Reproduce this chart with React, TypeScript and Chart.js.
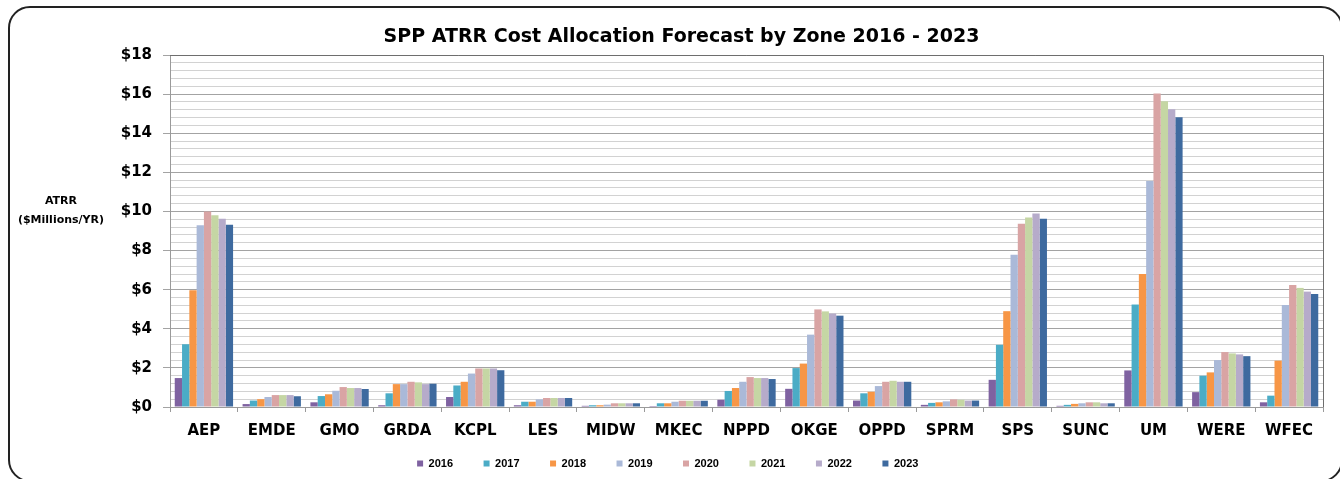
import React, { useEffect, useRef } from "react";
import { Chart, registerables } from "chart.js";

Chart.register(...registerables);

const zones = ["AEP", "EMDE", "GMO", "GRDA", "KCPL", "LES", "MIDW", "MKEC", "NPPD", "OKGE", "OPPD", "SPRM", "SPS", "SUNC", "UM", "WERE", "WFEC"];
const years = ["2016", "2017", "2018", "2019", "2020", "2021", "2022", "2023"];

const y2016 = [1.48, 0.15, 0.24, 0.09, 0.51, 0.09, 0.06, 0.05, 0.37, 0.93, 0.33, 0.11, 1.39, 0.06, 1.87, 0.76, 0.24];
const y2017 = [3.21, 0.33, 0.56, 0.70, 1.10, 0.27, 0.09, 0.19, 0.82, 1.99, 0.70, 0.21, 3.18, 0.11, 5.24, 1.60, 0.58];
const y2018 = [5.97, 0.40, 0.65, 1.17, 1.29, 0.27, 0.09, 0.19, 0.97, 2.22, 0.78, 0.24, 4.90, 0.16, 6.80, 1.77, 2.37];
const y2019 = [9.29, 0.51, 0.83, 1.17, 1.71, 0.39, 0.12, 0.27, 1.29, 3.70, 1.07, 0.29, 7.79, 0.19, 11.56, 2.40, 5.21];
const y2020 = [10.0, 0.61, 1.02, 1.29, 1.97, 0.46, 0.19, 0.32, 1.53, 4.99, 1.29, 0.39, 9.37, 0.24, 16.03, 2.81, 6.24];
const y2021 = [9.80, 0.61, 0.97, 1.26, 1.97, 0.46, 0.19, 0.32, 1.48, 4.89, 1.34, 0.37, 9.69, 0.24, 15.63, 2.74, 6.09];
const y2022 = [9.63, 0.61, 0.97, 1.17, 1.97, 0.46, 0.19, 0.32, 1.48, 4.78, 1.29, 0.33, 9.90, 0.19, 15.22, 2.69, 5.90];
const y2023 = [9.32, 0.55, 0.92, 1.19, 1.88, 0.46, 0.19, 0.32, 1.43, 4.67, 1.29, 0.33, 9.63, 0.19, 14.82, 2.60, 5.78];

const seriesValues = [y2016, y2017, y2018, y2019, y2020, y2021, y2022, y2023];
const seriesColors = ["#7F62A1", "#4BACC6", "#F79646", "#AAB9D8", "#D9A4A4", "#C5D6A4", "#B6ABCA", "#3E6A9F"];

const chartTitle = "SPP ATRR Cost Allocation Forecast by Zone 2016 - 2023";
const yAxisTitle = ["ATRR", "($Millions/YR)"];
const yMax = 18;
const yMinorStep = 0.4;

const BOLD = "DejaVu Sans";

const framePlugin = {
  id: "frame",
  afterDatasetsDraw(chart: any) {
    const { ctx, chartArea } = chart;
    ctx.save();
    ctx.strokeStyle = "#6e6e6e";
    ctx.lineWidth = 1;
    ctx.beginPath();
    ctx.moveTo(chartArea.left, chartArea.top + 0.5);
    ctx.lineTo(chartArea.right + 0.5, chartArea.top + 0.5);
    ctx.lineTo(chartArea.right + 0.5, chartArea.bottom);
    ctx.stroke();
    ctx.restore();
  },
  afterDraw(chart: any) {
    const { ctx } = chart;
    ctx.save();
    ctx.fillStyle = "#000";
    ctx.font = `bold 11px "${BOLD}"`;
    ctx.textAlign = "center";
    ctx.textBaseline = "middle";
    ctx.fillText(yAxisTitle[0], 61, 201);
    ctx.fillText(yAxisTitle[1], 61, 220);
    ctx.restore();
  },
};

export default function App() {
  const ref = useRef<HTMLCanvasElement | null>(null);

  useEffect(() => {
    if (!ref.current) return;
    const chart = new Chart(ref.current, {
      type: "bar",
      data: {
        labels: zones,
        datasets: years.map((yr, i) => ({
          label: yr,
          data: seriesValues[i],
          backgroundColor: seriesColors[i],
          borderWidth: 0,
          barPercentage: 1,
          categoryPercentage: 0.86,
        })),
      },
      options: {
        responsive: false,
        animation: false,
        layout: { padding: { left: 40, right: 17, top: 0, bottom: 0 } },
        plugins: {
          title: {
            display: true,
            text: chartTitle,
            color: "#000",
            font: { family: BOLD, size: 19, weight: "bold" },
            padding: { top: 26, bottom: 6.2 },
          },
          legend: {
            position: "bottom",
            labels: {
              boxWidth: 6,
              boxHeight: 6,
              padding: 3,
              color: "#000",
              font: { family: "Liberation Sans", size: 11, weight: "bold" },
              generateLabels: (c: any) => {
                const items = Chart.defaults.plugins.legend.labels.generateLabels(c);
                items.forEach((it: any) => {
                  it.text = it.text + " ".repeat(9);
                  it.lineWidth = 0;
                });
                return items;
              },
            },
          },
          tooltip: { enabled: false },
        },
        scales: {
          x: {
            grid: {
              display: true,
              drawOnChartArea: false,
              drawTicks: true,
              tickLength: 5,
              color: "#9a9a9a",
              offset: true,
            },
            border: { display: true, color: "#9a9a9a" },
            ticks: {
              color: "#000",
              padding: 10,
              maxRotation: 0,
              autoSkip: false,
              font: { family: BOLD, size: 15, weight: "bold" },
            },
            afterFit: (s: any) => {
              s.height = 48;
            },
          },
          y: {
            min: 0,
            max: yMax,
            ticks: {
              stepSize: yMinorStep,
              autoSkip: false,
              padding: 11,
              color: "#000",
              font: { family: BOLD, size: 15, weight: "bold" },
              callback: (v: any, i: number) => (i % 5 === 0 ? "$" + Math.round(Number(v)) : ""),
            },
            grid: {
              tickLength: 7,
              color: (c: any) => (c.index % 5 === 0 ? "#a3a3a3" : "#d2d2d2"),
              tickColor: (c: any) => (c.index % 5 === 0 ? "#a3a3a3" : "rgba(0,0,0,0)"),
            },
            border: { display: true, color: "#9a9a9a" },
            afterFit: (s: any) => {
              s.width = 130;
            },
          },
        },
      },
      plugins: [framePlugin],
    } as any);
    return () => chart.destroy();
  }, []);

  return (
    <div style={{ position: "absolute", left: 0, top: 0, width: 1340, height: 479, overflow: "hidden", background: "#fff" }}>
      <canvas ref={ref} width={1340} height={479} style={{ display: "block", width: 1340, height: 479 }} />
      <div
        style={{
          position: "absolute",
          left: 8,
          top: 6,
          width: 1335,
          height: 476,
          boxSizing: "border-box",
          border: "2px solid #222",
          borderRadius: 22,
          pointerEvents: "none",
        }}
      />
    </div>
  );
}
